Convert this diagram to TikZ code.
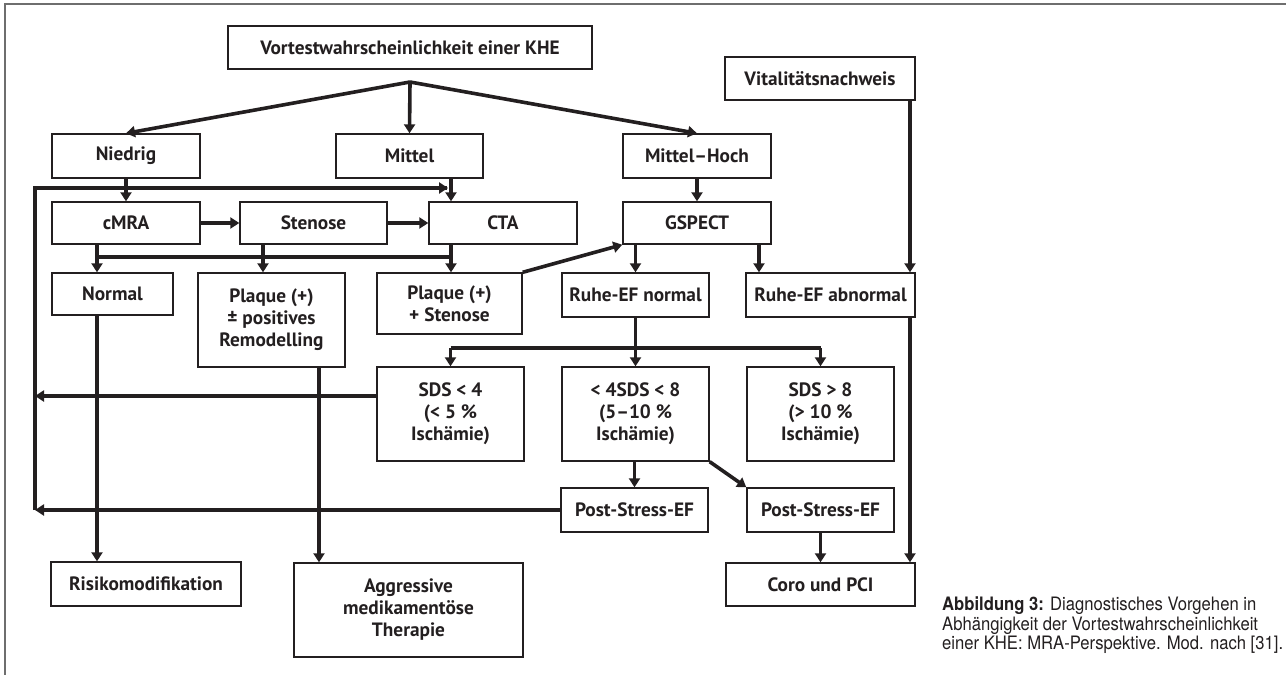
\documentclass[tikz,border=0pt]{standalone}
\usepackage{fontspec}
\setmainfont{PT Sans}
\newfontfamily\capfont[FakeStretch=0.9]{TeX Gyre Heros}
\usetikzlibrary{arrows.meta,calc}
\definecolor{ink}{HTML}{231F20}
\definecolor{rule}{HTML}{6E6E6E}
\begin{document}
\begin{tikzpicture}[x=1pt,y=-1pt,
  box/.style={draw=ink, line width=1.4pt, fill=white, inner sep=0pt, align=center,
    text=ink, font=\fontsize{19.3}{22}\selectfont\bfseries},
  link/.style={draw=ink, line width=3.6pt},
  arr/.style={link, -{Triangle[length=9pt,width=11pt]}},
]
\useasboundingbox (0,0) rectangle (1286,675);

% page frame (top and left rules)
\draw[rule, line width=1.5pt] (5,675) -- (5,4) -- (1286,4);

% boxes
\node[box, minimum width=364, minimum height=43] (pretest) at (410,47.5) {Vortestwahrscheinlichkeit einer KHE};
\node[box, minimum width=190, minimum height=43] (vital) at (820,78.5) {Vitalitätsnachweis};
\node[box, minimum width=148, minimum height=44] (niedrig) at (126,156) {Niedrig};
\node[box, minimum width=147, minimum height=44] (mittel) at (409.5,156) {Mittel};
\node[box, minimum width=148, minimum height=44] (mhoch) at (697,156) {Mittel–Hoch};
\node[box, minimum width=148, minimum height=42] (cmra) at (126,223) {cMRA};
\node[box, minimum width=147, minimum height=42] (stenose) at (313.5,223) {Stenose};
\node[box, minimum width=148, minimum height=42] (cta) at (503,223) {CTA};
\node[box, minimum width=148, minimum height=42] (gspect) at (697,223) {GSPECT};
\node[box, minimum width=121, minimum height=42] (normal) at (112.5,294) {Normal};
\node[box, minimum width=147, minimum height=94] (plaqA) at (271.5,320) {Plaque (+)\\± positives\\Remodelling};
\node[box, minimum width=145, minimum height=61] (plaqB) at (449.5,303.5) {Plaque (+)\\+ Stenose};
\node[box, minimum width=147, minimum height=44] (ruheN) at (635.5,295) {Ruhe-EF normal};
\node[box, minimum width=169, minimum height=44] (ruheA) at (830.5,295) {Ruhe-EF abnormal};
\node[box, minimum width=147, minimum height=94] (sdsLo) at (450.5,414) {SDS < 4\\(< 5 \%\\Ischämie)};
\node[box, minimum width=147, minimum height=94] (sdsMid) at (635.5,414) {< 4SDS < 8\\(5–10 \%\\Ischämie)};
\node[box, minimum width=147, minimum height=94] (sdsHi) at (820.5,414) {SDS > 8\\(> 10 \%\\Ischämie)};
\node[box, minimum width=147, minimum height=44] (pseA) at (634.5,510) {Post-Stress-EF};
\node[box, minimum width=147, minimum height=44] (pseB) at (820.5,510) {Post-Stress-EF};
\node[box, minimum width=190, minimum height=44] (risiko) at (146,584) {Risikomodifikation};
\node[box, minimum width=229, minimum height=94] (aggr) at (408.5,610) {Aggressive\\medikamentöse\\Therapie};
\node[box, minimum width=189, minimum height=43] (coro) at (820.5,584.5) {Coro und PCI};

% routing rails
\coordinate (split) at (410,82);
\coordinate (railL) at (35,188);
\coordinate (railMR) at (97,257);
\coordinate (railST) at (263,257);
\coordinate (railCT) at (451,257);
\coordinate (railAG) at (319,0);
\coordinate (railRA) at (759,0);
\coordinate (railV) at (910,0);
\coordinate (busSDS) at (0,348);
\coordinate (loopEnd) at (447,188);

% pre-test probability split
\draw[arr] (split) -- (niedrig.north);
\draw[arr] (split) -- (mittel.north);
\draw[arr] (split) -- (mhoch.north);

% low / intermediate branch
\draw[arr] (niedrig.south) -- (cmra.north);
\draw[arr] (mittel.south -| railCT) -- (cta.north -| railCT);
\draw[arr] (cmra.east) -- (stenose.west);
\draw[arr] (stenose.east) -- (cta.west);
\draw[link] (railMR) -- (railCT);
\draw[arr] (cmra.south -| railMR) -- (normal.north -| railMR);
\draw[arr] (stenose.south -| railST) -- (plaqA.north -| railST);
\draw[arr] (cta.south -| railCT) -- (plaqB.north -| railCT);
\draw[arr] (normal.south -| railMR) -- (risiko.north -| railMR);
\draw[arr] (plaqA.south -| railAG) -- (aggr.north -| railAG);
\draw[arr] (plaqB.north east) -- (gspect.south west);

% high branch
\draw[arr] (mhoch.south) -- (gspect.north);
\draw[arr] (gspect.south -| ruheN.north) -- (ruheN.north);
\draw[arr] (gspect.south -| railRA) -- (ruheA.north -| railRA);
\draw[link] (ruheN.south) -- (ruheN.south |- busSDS);
\draw[link] (sdsLo.north |- busSDS) -- (sdsHi.north |- busSDS);
\draw[arr] (sdsLo.north |- busSDS) -- (sdsLo.north);
\draw[arr] (sdsMid.north |- busSDS) -- (sdsMid.north);
\draw[arr] (sdsHi.north |- busSDS) -- (sdsHi.north);
\draw[arr] (sdsMid.south -| pseA.north) -- (pseA.north);
\draw[arr] (sdsMid.south east) -- (pseB.north west);
\draw[arr] (pseB.south) -- (coro.north);

% viability
\draw[arr] (vital.south -| railV) -- (ruheA.north -| railV);
\draw[arr] (ruheA.south -| railV) -- (coro.north -| railV);

% feedback rail on the left
\draw[link, line join=miter] (pseA.west -| railL) -- (railL) -- (loopEnd);
\draw[arr] (loopEnd) -- ++(1,0);
\draw[arr] (pseA.west) -- (pseA.west -| railL);
\draw[arr] ([yshift=18pt]sdsLo.west) -- ([yshift=18pt]sdsLo.west -| railL);

% caption
\node[anchor=north west, inner sep=0pt, align=left, text=ink,
  font=\capfont\fontsize{18.5}{19.5}\selectfont] (caption) at (942,597)
  {\textbf{Abbildung 3:} Diagnostisches Vorgehen in\\Abhängigkeit der Vortestwahrscheinlichkeit\\einer KHE: MRA-Perspektive. Mod. nach [31].};
\end{tikzpicture}
\end{document}
